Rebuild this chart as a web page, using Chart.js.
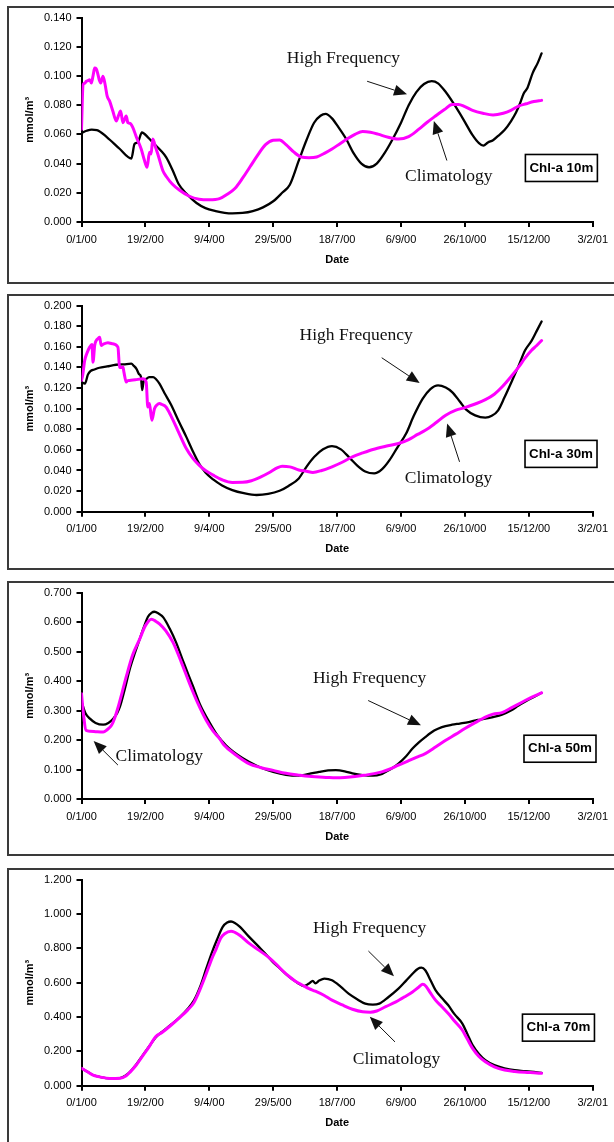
<!DOCTYPE html>
<html>
<head>
<meta charset="utf-8">
<script src="https://cdn.jsdelivr.net/npm/chart.js@4.4.1/dist/chart.umd.min.js"></script>
<style>
  html, body { margin: 0; padding: 0; background: #fff; width: 614px; height: 1142px; overflow: hidden; position: relative; }
  .frame { position: absolute; left: 7px; width: 700px; border: 2px solid #3a3a3a; box-sizing: border-box; }
  canvas { position: absolute; left: 0; }
</style>
</head>
<body>
<script>
// ---- shared date axis (days counted from 0/1/00) ----
const dateTickDays = [0, 50, 100, 150, 200, 250, 300, 350, 400];
const dateTickLabels = ['0/1/00', '19/2/00', '9/4/00', '29/5/00', '18/7/00', '6/9/00', '26/10/00', '15/12/00', '3/2/01'];

// ---- Chl-a 10 m ----
const chl10TickValues = [0, 0.02, 0.04, 0.06, 0.08, 0.10, 0.12, 0.14];
const chl10TickLabels = ['0.000', '0.020', '0.040', '0.060', '0.080', '0.100', '0.120', '0.140'];
const chl10HighDays = [0,4,8,12,20,30,39,41.5,44,47.3, 52,57,62,66.3,71.4,76,82,90,97,105, 112,118,126,134,142,150,157,163,170,176, 182,187,191,196,201,207,213,219,225,231, 237,243,250,256,262,268,274,279,285,292, 299,306,311,314.5,318,322,326,331,336,340, 343,346,349,353,357,360];
const chl10High = [0.061,0.0625,0.0633,0.063,0.058,0.050,0.0435,0.0534,0.0545,0.0613, 0.058,0.0534,0.049,0.0443,0.0353,0.026,0.0195,0.013,0.0095,0.0075, 0.0063,0.0059,0.0062,0.0075,0.0100,0.0142,0.020,0.0255,0.042,0.056, 0.068,0.0728,0.0740,0.071,0.065,0.057,0.047,0.040,0.0375,0.040, 0.047,0.056,0.068,0.080,0.089,0.0945,0.0965,0.095,0.089,0.080, 0.070,0.0595,0.054,0.0523,0.0545,0.056,0.059,0.063,0.069,0.075, 0.081,0.088,0.092,0.102,0.109,0.1155];
const chl10ClimDays = [0,1.2,2.5,3.8,5,6.4,7.7,9,10.3,11.5, 12.9,14,15,16.8,18.5,20.1,22,24.5,27.2,29, 30.6,32.4,35,36.3,38,40.2,43,46.7,49,51.3, 53.2,54.4,55.8,58,59.7,63.6,66.5,71,76.8,84, 92,100,108,114,120,126,132,138,144,150, 155,160,166,172,178,184,190,196,202,208, 214,220,226,232,240,248,256,264,270,277, 284,290,295,300,306,314,322,330,336,342, 348,354,360];
const chl10Clim = [0.0636,0.094,0.095,0.0964,0.0968,0.0975,0.0952,0.100,0.1054,0.1050, 0.101,0.097,0.0952,0.0998,0.094,0.0862,0.0828,0.076,0.0692,0.073, 0.076,0.068,0.0726,0.068,0.0675,0.0647,0.058,0.050,0.043,0.0375, 0.0477,0.0466,0.0568,0.051,0.0466,0.0353,0.031,0.026,0.0217,0.0178, 0.0156,0.0152,0.016,0.019,0.023,0.030,0.038,0.046,0.053,0.056, 0.0562,0.053,0.048,0.0445,0.0440,0.0445,0.047,0.050,0.0535,0.057, 0.060,0.062,0.0615,0.0602,0.058,0.0568,0.0585,0.0636,0.068,0.0726, 0.077,0.0805,0.0805,0.079,0.0765,0.0745,0.0733,0.0745,0.0765,0.0794, 0.081,0.0825,0.0833];

// ---- Chl-a 30 m ----
const chl30TickValues = [0, 0.02, 0.04, 0.06, 0.08, 0.10, 0.12, 0.14, 0.16, 0.18, 0.20];
const chl30TickLabels = ['0.000', '0.020', '0.040', '0.060', '0.080', '0.100', '0.120', '0.140', '0.160', '0.180', '0.200'];
const chl30HighDays = [0,2.7,5,7,10,14,20,27,33,39, 41,43,45,46.5,47.5,48.5,50.8,53,56,58, 61,65,70,76,82,87,92,97,103,110, 118,127,137,146,155,162,170,176,182,189, 196,203,210,216,222,229,235,241,247,254, 260,267,273,279,285,290,296,301,308,316, 321,326,331,337,342,347,352,356,360];
const chl30High = [0.1258,0.1242,0.133,0.1365,0.138,0.1397,0.141,0.1426,0.143,0.1436, 0.1415,0.1387,0.1335,0.131,0.118,0.1258,0.129,0.1305,0.1306,0.129, 0.1242,0.115,0.104,0.088,0.0726,0.059,0.0468,0.038,0.0313,0.0255, 0.021,0.018,0.0162,0.0172,0.0203,0.025,0.0323,0.0435,0.053,0.0605, 0.0636,0.0605,0.052,0.0445,0.039,0.0371,0.041,0.050,0.062,0.0758, 0.093,0.1097,0.119,0.1226,0.1205,0.1161,0.107,0.099,0.0935,0.0913, 0.093,0.0984,0.111,0.1274,0.1415,0.1565,0.1655,0.175,0.1845];
const chl30ClimDays = [0,1,2.5,4,6.4,8.2,9,10.3,11.5,13, 14.2,15.4,17,20.7,24,28.5,29.8,31,32.4,33.2, 35,36,37.6,42,48,50.6,51.9,53.2,55,57.1, 59,61,63,66.1,70,75.3,82,87,92,97, 103,110,118,126,133,140,147,153,157,163, 170,176,181,188,196,204,212,220,228,238, 248,256,263,269,277,285,293,300,308,316, 323,329,336,342,347,352,356,360];
const chl30Clim = [0.1274,0.133,0.1468,0.153,0.1597,0.1623,0.1451,0.1613,0.1661,0.168, 0.1693,0.1613,0.1625,0.1639,0.163,0.1597,0.1403,0.140,0.1403,0.1355, 0.1258,0.127,0.1274,0.128,0.129,0.1258,0.1016,0.1049,0.0887,0.100, 0.1035,0.1049,0.104,0.1016,0.093,0.079,0.0613,0.052,0.0452,0.040, 0.0355,0.031,0.0284,0.0285,0.030,0.0335,0.038,0.0425,0.0442,0.0435, 0.0405,0.0393,0.0381,0.040,0.0436,0.048,0.0532,0.057,0.0604,0.0635, 0.0662,0.070,0.075,0.079,0.086,0.0936,0.0985,0.101,0.1045,0.1087, 0.114,0.121,0.131,0.1403,0.149,0.1565,0.161,0.1661];

// ---- Chl-a 50 m ----
const chl50TickValues = [0, 0.1, 0.2, 0.3, 0.4, 0.5, 0.6, 0.7];
const chl50TickLabels = ['0.000', '0.100', '0.200', '0.300', '0.400', '0.500', '0.600', '0.700'];
const chl50HighDays = [0,3,6.6,11,17,21,24.8,28,30,34, 37.8,42,45.6,49,52,55,57,60,64,69, 74,80,87,93,100,106,113,122,131,140, 150,160,170,178,186,193,199,206,212,220, 228,234,238,243,248,254,259,264,269,276, 282,290,296,303,310,316,322,329,336,342, 348,354,360];
const chl50High = [0.33,0.292,0.2725,0.258,0.252,0.258,0.2725,0.292,0.312,0.375, 0.441,0.498,0.543,0.585,0.618,0.632,0.635,0.630,0.616,0.578, 0.531,0.462,0.385,0.318,0.261,0.218,0.182,0.150,0.126,0.107, 0.092,0.082,0.079,0.085,0.092,0.097,0.098,0.094,0.087,0.081, 0.079,0.083,0.092,0.104,0.12,0.145,0.171,0.192,0.21,0.232, 0.244,0.252,0.256,0.261,0.268,0.2725,0.278,0.286,0.300,0.317, 0.332,0.346,0.36];
const chl50ClimDays = [0,1.5,3.5,6.6,12,17,20,23.5,26,28.7, 32,35.3,40,45.6,50,54.8,58,61.2,66,71.6, 78,84.6,91,97.6,103,108,111.5,120,131,140, 150,160,170,178,186,193,199,206,214,222, 229,235,242,248,255,262,269,277,285,293, 300,308,316,322,329,337,345,352,360];
const chl50Clim = [0.357,0.29,0.233,0.23,0.228,0.227,0.235,0.25,0.275,0.312, 0.365,0.419,0.488,0.543,0.588,0.61,0.603,0.593,0.57,0.531, 0.465,0.391,0.325,0.267,0.23,0.205,0.183,0.152,0.12,0.107, 0.097,0.087,0.081,0.077,0.075,0.073,0.072,0.073,0.076,0.081, 0.086,0.092,0.103,0.115,0.128,0.141,0.154,0.176,0.199,0.22, 0.239,0.259,0.278,0.288,0.293,0.311,0.329,0.345,0.36];

// ---- Chl-a 70 m ----
const chl70TickValues = [0, 0.2, 0.4, 0.6, 0.8, 1.0, 1.2];
const chl70TickLabels = ['0.000', '0.200', '0.400', '0.600', '0.800', '1.000', '1.200'];
const chl70HighDays = [0,5,9,15,22,30,35,38,43,48, 53,58,63,70,77,83,88,93,97.6,102, 106,110.5,114,117,120,124,131,139,145,150, 155,160,165,170,174,178,181,183,186,190, 196,203,209,216,222,228,233,240,248,254, 259,263,266,269,273,277,282,287,292,298, 302,306,311,316,323,331,339,347,354,360];
const chl70High = [0.101,0.08,0.062,0.05,0.043,0.044,0.062,0.081,0.125,0.178, 0.23,0.281,0.313,0.355,0.4,0.447,0.497,0.58,0.681,0.775, 0.85,0.925,0.95,0.956,0.948,0.925,0.868,0.807,0.76,0.718, 0.685,0.65,0.62,0.594,0.58,0.595,0.61,0.596,0.612,0.624, 0.614,0.575,0.536,0.502,0.478,0.472,0.478,0.515,0.565,0.612, 0.652,0.68,0.687,0.672,0.615,0.556,0.51,0.468,0.415,0.362, 0.3,0.236,0.185,0.149,0.12,0.101,0.09,0.085,0.08,0.075];
const chl70ClimDays = [0,5,9,15,22,30,35,38,43,48, 53,58,63,70,77,83,88,93,97.6,102, 105.4,109,112,117,120,124,131,139,146,152, 158,163,168,173,178,183,190,196,204,212, 220,226,231,238,246,253,259,264,267,269.5, 273,277,282,287,292,298,302,306,311,316, 323,331,339,347,354,360];
const chl70Clim = [0.101,0.08,0.062,0.05,0.042,0.043,0.058,0.079,0.122,0.175, 0.228,0.285,0.31,0.352,0.398,0.44,0.485,0.565,0.652,0.74, 0.797,0.86,0.885,0.9,0.893,0.875,0.83,0.788,0.75,0.71, 0.665,0.633,0.605,0.585,0.565,0.55,0.525,0.498,0.47,0.445, 0.43,0.428,0.435,0.46,0.488,0.518,0.546,0.575,0.59,0.579, 0.54,0.498,0.46,0.42,0.375,0.323,0.27,0.217,0.17,0.139, 0.11,0.091,0.083,0.078,0.075,0.072];

// ---- panel layout (page pixels) and annotation placement (data units) ----
const panels = [
  { tag: 'Chl-a 10m', top: 6, height: 278, plotTop: 15.7, plotBottom: 222,
    yMax: 0.14, yTicks: chl10TickValues, yLabels: chl10TickLabels,
    high: [chl10HighDays, chl10High], clim: [chl10ClimDays, chl10Clim],
    notes: {
      labels: [{ text: 'High Frequency', at: [204.9, 0.1088] }, { text: 'Climatology', at: [287.4, 0.0278] }],
      arrows: [[223.5, 0.0964, 254.7, 0.0875], [285.9, 0.0421, 275.7, 0.0692]],
      tag: [375.5, 0.0370] } },
  { tag: 'Chl-a 30m', top: 294, height: 276, plotTop: 305, plotBottom: 511.7,
    yMax: 0.2, yTicks: chl30TickValues, yLabels: chl30TickLabels,
    high: [chl30HighDays, chl30High], clim: [chl30ClimDays, chl30Clim],
    notes: {
      labels: [{ text: 'High Frequency', at: [214.9, 0.1668] }, { text: 'Climatology', at: [287.2, 0.0275] }],
      arrows: [[234.9, 0.1494, 264.6, 0.1248], [295.8, 0.0484, 286.1, 0.0855]],
      tag: [375.2, 0.0561] } },
  { tag: 'Chl-a 50m', top: 581, height: 275, plotTop: 591.7, plotBottom: 799,
    yMax: 0.7, yTicks: chl50TickValues, yLabels: chl50TickLabels,
    high: [chl50HighDays, chl50High], clim: [chl50ClimDays, chl50Clim],
    notes: {
      labels: [{ text: 'High Frequency', at: [225.4, 0.392] }, { text: 'Climatology', at: [60.8, 0.128] }],
      arrows: [[224.3, 0.334, 265.6, 0.250], [28.5, 0.115, 9.5, 0.197]],
      tag: [374.4, 0.1705] } },
  { tag: 'Chl-a 70m', top: 868, height: 290, plotTop: 879, plotBottom: 1085.7,
    yMax: 1.2, yTicks: chl70TickValues, yLabels: chl70TickLabels,
    high: [chl70HighDays, chl70High], clim: [chl70ClimDays, chl70Clim],
    notes: {
      labels: [{ text: 'High Frequency', at: [225.4, 0.888] }, { text: 'Climatology', at: [246.5, 0.126] }],
      arrows: [[224.5, 0.784, 244.5, 0.637], [245.3, 0.255, 225.6, 0.401]],
      tag: [373.2, 0.338] } }
];

const PAGE_W = 614, PAGE_H = 1142;
const PLOT_LEFT = 81.5, PLOT_RIGHT = 594.3;

Chart.defaults.font.family = '"Liberation Sans", Arial, sans-serif';
Chart.defaults.font.size = 11;
Chart.defaults.color = '#000';

function drawArrow(ctx, x1, y1, x2, y2) {
  const ang = Math.atan2(y2 - y1, x2 - x1);
  const headLen = 13, headHalf = 5.5;
  const bx = x2 - headLen * Math.cos(ang), by = y2 - headLen * Math.sin(ang);
  ctx.lineWidth = 1;
  ctx.beginPath(); ctx.moveTo(x1, y1); ctx.lineTo(bx, by); ctx.stroke();
  ctx.beginPath();
  ctx.moveTo(x2, y2);
  ctx.lineTo(bx + headHalf * Math.sin(ang), by - headHalf * Math.cos(ang));
  ctx.lineTo(bx - headHalf * Math.sin(ang), by + headHalf * Math.cos(ang));
  ctx.closePath(); ctx.fill();
}

// Text callouts, arrows and the depth tag of each panel
const panelNotes = {
  id: 'panelNotes',
  afterDatasetsDraw(chart, args, opts) {
    const { ctx } = chart;
    const xs = chart.scales.x, ys = chart.scales.y;
    const px = d => xs.getPixelForValue(d), py = v => ys.getPixelForValue(v);
    ctx.save();
    ctx.fillStyle = '#111'; ctx.strokeStyle = '#111';
    ctx.font = '17.5px "Liberation Serif", "Times New Roman", serif';
    ctx.textAlign = 'center'; ctx.textBaseline = 'alphabetic';
    for (const l of opts.labels) ctx.fillText(l.text, px(l.at[0]), py(l.at[1]));
    for (const a of opts.arrows) drawArrow(ctx, px(a[0]), py(a[1]), px(a[2]), py(a[3]));
    const cx = px(opts.tag[0]), cy = py(opts.tag[1]);
    const w = 72, h = 27;
    ctx.fillStyle = '#fff';
    ctx.fillRect(cx - w / 2, cy - h / 2, w, h);
    ctx.lineWidth = 1.6; ctx.strokeStyle = '#000';
    ctx.strokeRect(cx - w / 2, cy - h / 2, w, h);
    ctx.fillStyle = '#000';
    ctx.font = 'bold 13.4px "Liberation Sans", Arial, sans-serif';
    ctx.textBaseline = 'middle';
    ctx.fillText(opts.tagText, cx, cy);
    ctx.restore();
  }
};

const toPoints = (days, vals) => days.map((d, i) => ({ x: d, y: vals[i] }));

panels.forEach(p => {
  const frame = document.createElement('div');
  frame.className = 'frame';
  frame.style.top = p.top + 'px';
  frame.style.height = p.height + 'px';
  document.body.appendChild(frame);

  const canvasH = Math.min(p.height, PAGE_H - p.top);
  const canvas = document.createElement('canvas');
  canvas.width = PAGE_W; canvas.height = canvasH;
  canvas.style.top = p.top + 'px';
  canvas.style.width = PAGE_W + 'px'; canvas.style.height = canvasH + 'px';
  document.body.appendChild(canvas);

  const padTop = p.plotTop - p.top;
  const xAxisH = p.top + canvasH - p.plotBottom;
  const dateCenter = p.plotBottom + 37.5;
  const dateLine = 11 * 1.2;
  const datePadBottom = (p.top + canvasH) - dateCenter - dateLine / 2;

  new Chart(canvas, {
    type: 'line',
    data: {
      datasets: [
        { label: 'Climatology', data: toPoints(p.clim[0], p.clim[1]), borderColor: '#ff00ff', borderWidth: 3, order: 1 },
        { label: 'High Frequency', data: toPoints(p.high[0], p.high[1]), borderColor: '#000000', borderWidth: 2.3, order: 2 }
      ]
    },
    options: {
      responsive: false, animation: false, devicePixelRatio: 1,
      layout: { padding: { left: 0, top: padTop, right: PAGE_W - PLOT_RIGHT, bottom: 0 } },
      elements: { point: { radius: 0 }, line: { cubicInterpolationMode: 'monotone', borderCapStyle: 'round', borderJoinStyle: 'round' } },
      plugins: {
        legend: { display: false }, tooltip: { enabled: false },
        panelNotes: Object.assign({ tagText: p.tag }, p.notes)
      },
      scales: {
        x: {
          type: 'linear', min: 0, max: 400,
          afterBuildTicks: ax => { ax.ticks = dateTickDays.map(v => ({ value: v })); },
          afterFit: ax => { ax.height = xAxisH; },
          ticks: { autoSkip: false, maxRotation: 0, padding: 6, color: '#000', font: { size: 11 },
                   callback: (v, i) => dateTickLabels[i] },
          grid: { drawOnChartArea: false, drawTicks: true, tickLength: 5, color: '#000', lineWidth: 2 },
          border: { display: true, color: '#000', width: 2 },
          title: { display: true, text: 'Date', color: '#000', font: { size: 11, weight: 'bold' },
                   padding: { top: 0, bottom: datePadBottom } }
        },
        y: {
          type: 'linear', min: 0, max: p.yMax,
          afterBuildTicks: ax => { ax.ticks = p.yTicks.map(v => ({ value: v })); },
          afterFit: ax => { ax.width = PLOT_LEFT; },
          ticks: { padding: 5, color: '#000', font: { size: 11 }, callback: (v, i) => p.yLabels[i] },
          grid: { drawOnChartArea: false, drawTicks: true, tickLength: 5, color: '#000', lineWidth: 2 },
          border: { display: true, color: '#000', width: 2 },
          title: { display: true, text: 'mmol/m³', color: '#000', font: { size: 11, weight: 'bold' },
                   padding: { top: 30 - dateLine / 2, bottom: 0 } }
        }
      }
    },
    plugins: [panelNotes]
  });
});
</script>
</body>
</html>
